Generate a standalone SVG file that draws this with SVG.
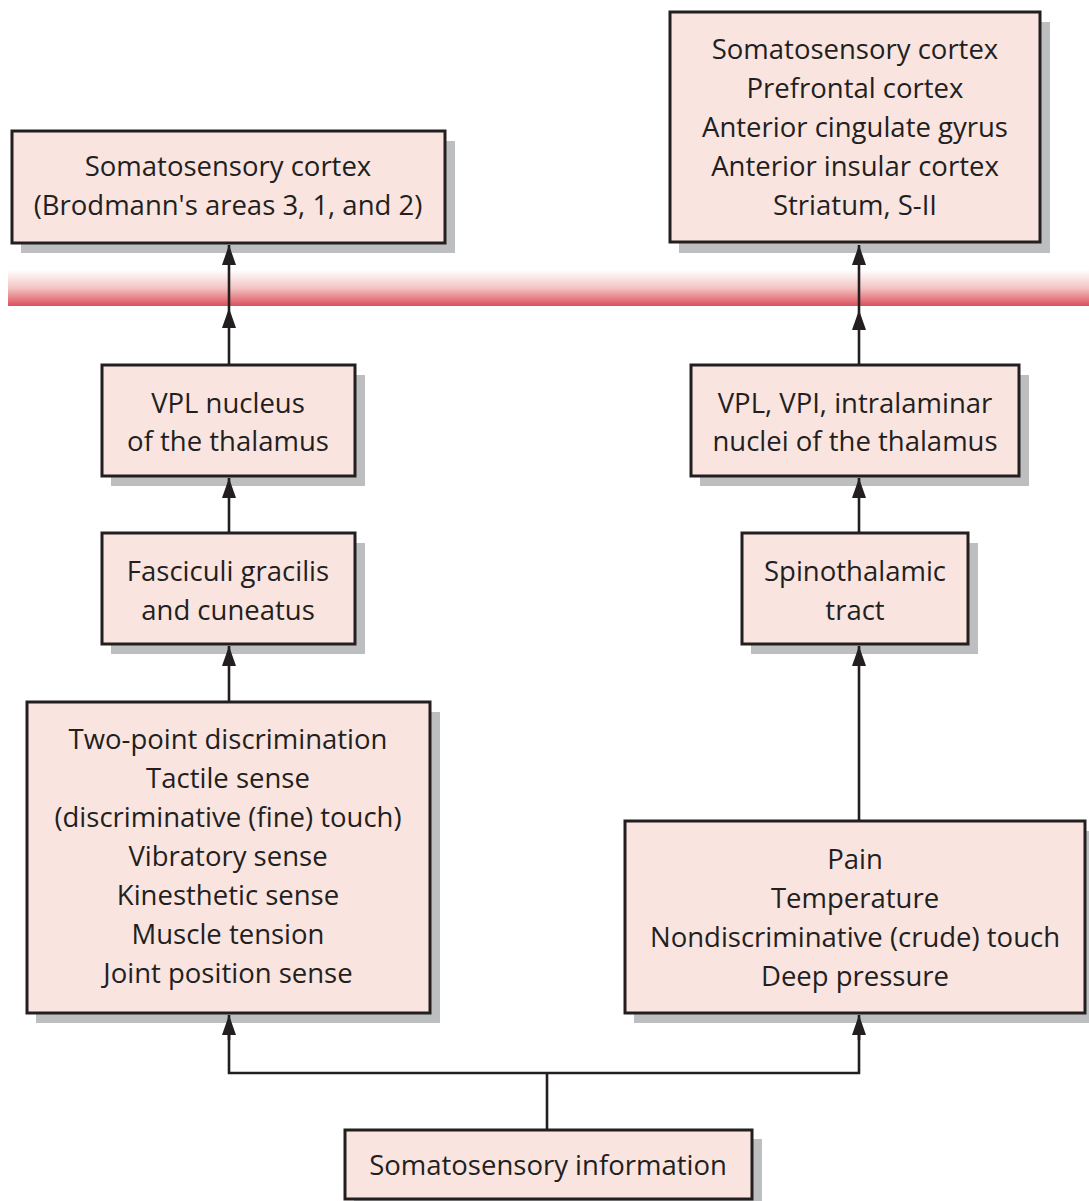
<svg xmlns="http://www.w3.org/2000/svg" width="1089" height="1201" viewBox="0 0 1089 1201">
  <style>
    .shadow { fill: #bcbec0; }
    .box { fill: #f9e4e0; stroke: #231f20; stroke-width: 3; }
    .label { font-family: "Open Sans", "Noto Sans", sans-serif; font-size: 27.5px; fill: #231f20; text-anchor: middle; }
    .wire { fill: none; stroke: #231f20; stroke-width: 2.6; }
  </style>
  <defs>
    <linearGradient id="band" x1="0" y1="0" x2="0" y2="1">
      <stop offset="0" stop-color="#ffffff"/>
      <stop offset="0.5" stop-color="#f2c4c2"/>
      <stop offset="1" stop-color="#db4f5c"/>
    </linearGradient>
    <marker id="head" viewBox="0 0 20 14" refX="20" refY="7" markerWidth="20" markerHeight="14" markerUnits="userSpaceOnUse" orient="auto">
      <path d="M20 7 L0 0 L0 14 Z" fill="#231f20"/>
    </marker>
  </defs>

  <rect width="1089" height="1201" fill="#ffffff"/>

  <!-- cortical boundary band -->
  <rect x="8" y="270" width="1081" height="36" fill="url(#band)"/>

  <g id="cortex-left">
    <rect class="shadow" x="21" y="141" width="434" height="112"/>
    <rect class="box" x="12" y="131" width="433" height="112"/>
    <text class="label" x="228" y="176">Somatosensory cortex</text>
    <text class="label" x="228" y="215">(Brodmann's areas 3, 1, and 2)</text>
  </g>

  <g id="cortex-right">
    <rect class="shadow" x="679" y="22" width="371" height="231"/>
    <rect class="box" x="670" y="12" width="370" height="230"/>
    <text class="label" x="855" y="59">Somatosensory cortex</text>
    <text class="label" x="855" y="98">Prefrontal cortex</text>
    <text class="label" x="855" y="137">Anterior cingulate gyrus</text>
    <text class="label" x="855" y="176">Anterior insular cortex</text>
    <text class="label" x="855" y="215">Striatum, S-II</text>
  </g>

  <g id="vpl">
    <rect class="shadow" x="111" y="375" width="254" height="111"/>
    <rect class="box" x="102" y="365" width="253" height="111"/>
    <text class="label" x="228" y="413">VPL nucleus</text>
    <text class="label" x="228" y="451">of the thalamus</text>
  </g>

  <g id="vpl-vpi">
    <rect class="shadow" x="700" y="375" width="329" height="111"/>
    <rect class="box" x="691" y="365" width="328" height="111"/>
    <text class="label" x="855" y="413">VPL, VPI, intralaminar</text>
    <text class="label" x="855" y="451">nuclei of the thalamus</text>
  </g>

  <g id="fasciculi">
    <rect class="shadow" x="111" y="543" width="254" height="111"/>
    <rect class="box" x="102" y="533" width="253" height="111"/>
    <text class="label" x="228" y="581">Fasciculi gracilis</text>
    <text class="label" x="228" y="620">and cuneatus</text>
  </g>

  <g id="spinothalamic">
    <rect class="shadow" x="751" y="543" width="227" height="111"/>
    <rect class="box" x="742" y="533" width="226" height="111"/>
    <text class="label" x="855" y="581">Spinothalamic</text>
    <text class="label" x="855" y="620">tract</text>
  </g>

  <g id="discriminative">
    <rect class="shadow" x="36" y="712" width="404" height="311"/>
    <rect class="box" x="27" y="702" width="403" height="311"/>
    <text class="label" x="228" y="749">Two-point discrimination</text>
    <text class="label" x="228" y="788">Tactile sense</text>
    <text class="label" x="228" y="827">(discriminative (fine) touch)</text>
    <text class="label" x="228" y="866">Vibratory sense</text>
    <text class="label" x="228" y="905">Kinesthetic sense</text>
    <text class="label" x="228" y="944">Muscle tension</text>
    <text class="label" x="228" y="983">Joint position sense</text>
  </g>

  <g id="nondiscriminative">
    <rect class="shadow" x="634" y="831" width="461" height="192"/>
    <rect class="box" x="625" y="821" width="460" height="192"/>
    <text class="label" x="855" y="869">Pain</text>
    <text class="label" x="855" y="908">Temperature</text>
    <text class="label" x="855" y="947">Nondiscriminative (crude) touch</text>
    <text class="label" x="855" y="986">Deep pressure</text>
  </g>

  <g id="input">
    <rect class="shadow" x="354" y="1139" width="408" height="62"/>
    <rect class="box" x="345" y="1130" width="407" height="69"/>
    <text class="label" x="548" y="1175">Somatosensory information</text>
  </g>

  <g id="connectors">
    <!-- left pathway -->
    <line class="wire" x1="229" y1="308" x2="229" y2="245" marker-end="url(#head)"/>
    <line class="wire" x1="229" y1="364" x2="229" y2="308" marker-end="url(#head)"/>
    <line class="wire" x1="229" y1="532" x2="229" y2="478" marker-end="url(#head)"/>
    <line class="wire" x1="229" y1="701" x2="229" y2="646" marker-end="url(#head)"/>
    <!-- right pathway -->
    <line class="wire" x1="859" y1="310" x2="859" y2="245" marker-end="url(#head)"/>
    <line class="wire" x1="859" y1="364" x2="859" y2="310" marker-end="url(#head)"/>
    <line class="wire" x1="859" y1="532" x2="859" y2="478" marker-end="url(#head)"/>
    <line class="wire" x1="859" y1="820" x2="859" y2="646" marker-end="url(#head)"/>
    <!-- input split -->
    <line class="wire" x1="547" y1="1129" x2="547" y2="1073"/>
    <polyline class="wire" points="229,1030 229,1073 859,1073 859,1030"/>
    <line class="wire" x1="229" y1="1040" x2="229" y2="1015" marker-end="url(#head)"/>
    <line class="wire" x1="859" y1="1040" x2="859" y2="1015" marker-end="url(#head)"/>
  </g>
</svg>
